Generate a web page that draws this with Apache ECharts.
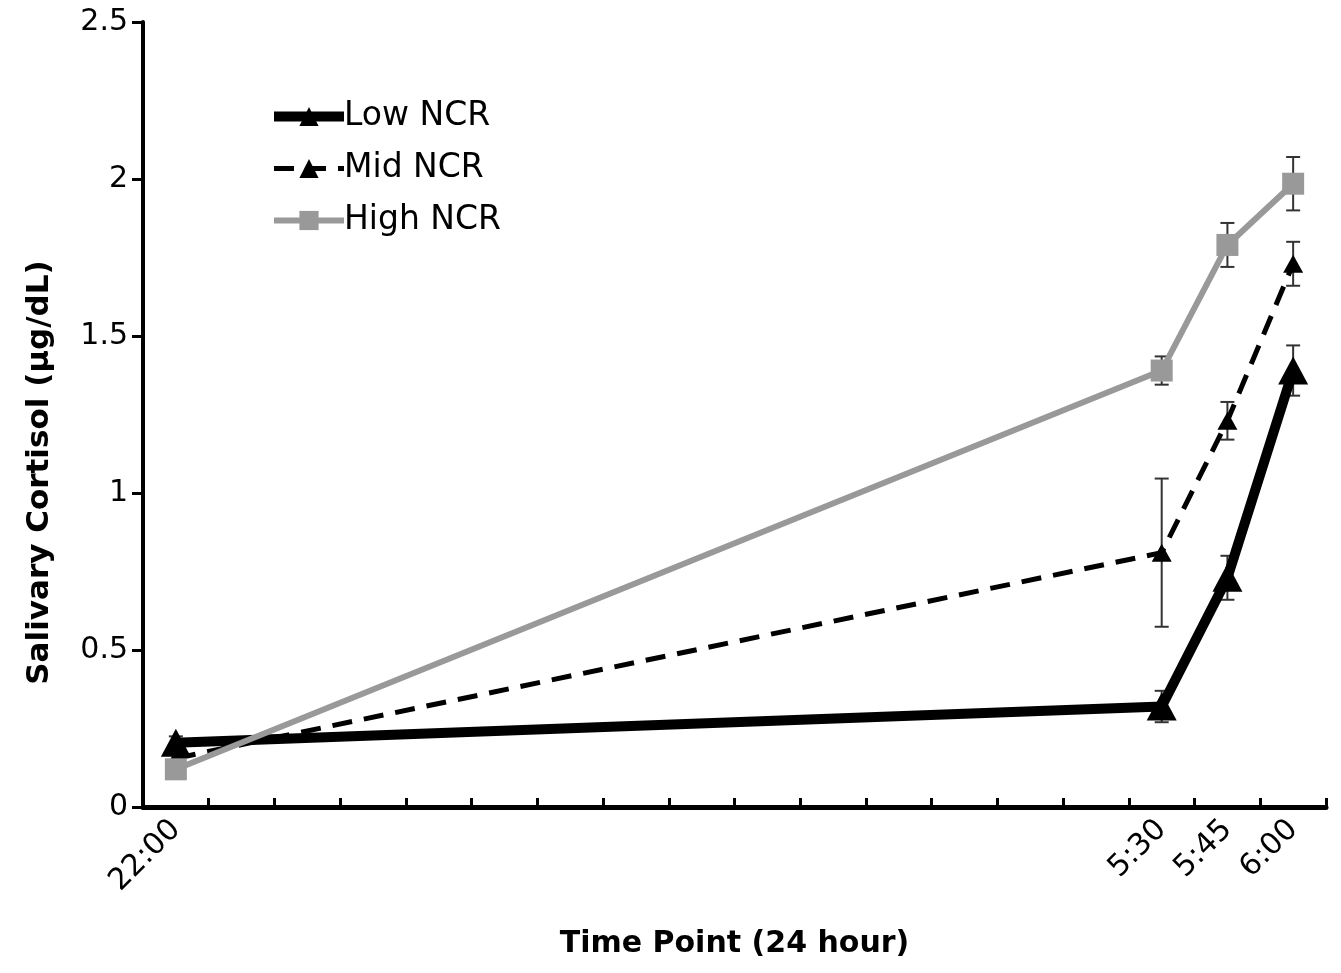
<!DOCTYPE html>
<html>
<head>
<meta charset="utf-8">
<script src="https://cdn.jsdelivr.net/npm/echarts@6/dist/echarts.min.js"></script>
<style>
html,body{margin:0;padding:0;background:#fff;}
#chart{width:1341px;height:973px;}
</style>
</head>
<body>
<div id="chart"></div>
<script>
// Category slots on the x axis (half-hour steps, then the quarter-hour samples)
const categories = ['22:00','22:30','23:00','23:30','0:00','0:30','1:00','1:30','2:00','2:30','3:00','3:30','4:00','4:30','5:00','5:30','5:45','6:00'];
// Sample time points that carry labels and data
const sampleTimes = ['22:00','5:30','5:45','6:00'];
// Y tick settings
const yTicks = [0, 0.5, 1, 1.5, 2, 2.5];

const lowNCR = [0.205, 0.32, 0.73, 1.39];
const lowErr = [0.02, 0.05, 0.07, 0.08];
const midNCR = [0.155, 0.81, 1.23, 1.73];
const midErr = [0.02, 0.236, 0.06, 0.07];
const highNCR = [0.12, 1.39, 1.79, 1.985];
const highErr = [0.02, 0.045, 0.07, 0.085];

const FONT = 'DejaVu Sans';

function pts(vals){ return sampleTimes.map((t,i)=>[t, vals[i]]); }
function errs(vals, e){ return sampleTimes.map((t,i)=>[t, vals[i]-e[i], vals[i]+e[i]]); }

function errorSeries(vals, e){
  return {
    type:'custom',
    z:1,
    silent:true,
    data: errs(vals,e),
    encode:{x:0, y:[1,2]},
    renderItem: function(params, api){
      const x = api.value(0);
      const lo = api.coord([x, api.value(1)]);
      const hi = api.coord([x, api.value(2)]);
      const w = 7;
      const st = {stroke:'#333', lineWidth:2};
      return {type:'group', children:[
        {type:'line', shape:{x1:lo[0],y1:lo[1],x2:hi[0],y2:hi[1]}, style:st},
        {type:'line', shape:{x1:lo[0]-w,y1:lo[1],x2:lo[0]+w,y2:lo[1]}, style:st},
        {type:'line', shape:{x1:hi[0]-w,y1:hi[1],x2:hi[0]+w,y2:hi[1]}, style:st}
      ]};
    }
  };
}

const chart = echarts.init(document.getElementById('chart'));
chart.setOption({
  backgroundColor:'#fff',
  animation:false,
  grid:{left:143, right:15, top:22, bottom:166, containLabel:false},
  legend:{
    orient:'vertical',
    left:264, top:95,
    itemWidth:70, itemHeight:24, itemGap:19,
    lineStyle:{width:'inherit'},
    data:['Low NCR','Mid NCR','High NCR'],
    textStyle:{fontFamily:FONT, fontSize:33, lineHeight:33, color:'#000', padding:[0,0,0,-5]}
  },
  xAxis:{
    type:'category',
    data:categories,
    boundaryGap:true,
    name:'Time Point (24 hour)',
    nameLocation:'middle',
    nameGap:122,
    nameTextStyle:{fontFamily:FONT, fontSize:30, fontWeight:'bold', color:'#000'},
    axisLine:{lineStyle:{color:'#000', width:5}},
    axisTick:{show:true, inside:true, length:9, interval:0, lineStyle:{color:'#000', width:3}},
    axisLabel:{
      interval:0, rotate:45, margin:18,
      fontFamily:FONT, fontSize:30, color:'#000',
      formatter: v => sampleTimes.indexOf(v) >= 0 ? v : ''
    },
    splitLine:{show:false}
  },
  yAxis:{
    type:'value',
    min:yTicks[0], max:yTicks[yTicks.length-1], interval:0.5,
    name:'Salivary Cortisol (µg/dL)',
    nameLocation:'middle',
    nameGap:88,
    nameTextStyle:{fontFamily:FONT, fontSize:31, fontWeight:'bold', color:'#000', padding:[0,116,0,0]},
    axisLine:{show:true, lineStyle:{color:'#000', width:4}},
    axisTick:{show:true, inside:false, length:11, lineStyle:{color:'#000', width:3}},
    axisLabel:{fontFamily:FONT, fontSize:30, color:'#000', margin:15},
    splitLine:{show:false}
  },
  series:[
    {
      name:'Low NCR', type:'line', z:3,
      data:pts(lowNCR),
      symbol:'triangle', symbolSize:[30,28],
      lineStyle:{color:'#000', width:10},
      itemStyle:{color:'#000'}
    },
    {
      name:'Mid NCR', type:'line', z:2,
      data:pts(midNCR),
      symbol:'triangle', symbolSize:[20,18],
      lineStyle:{color:'#000', width:5, type:[20,12]},
      itemStyle:{color:'#000'}
    },
    {
      name:'High NCR', type:'line', z:4,
      data:pts(highNCR),
      symbol:'rect', symbolSize:22,
      lineStyle:{color:'#999', width:6},
      itemStyle:{color:'#999'}
    },
    errorSeries(lowNCR, lowErr),
    errorSeries(midNCR, midErr),
    errorSeries(highNCR, highErr)
  ]
});
</script>
</body>
</html>
